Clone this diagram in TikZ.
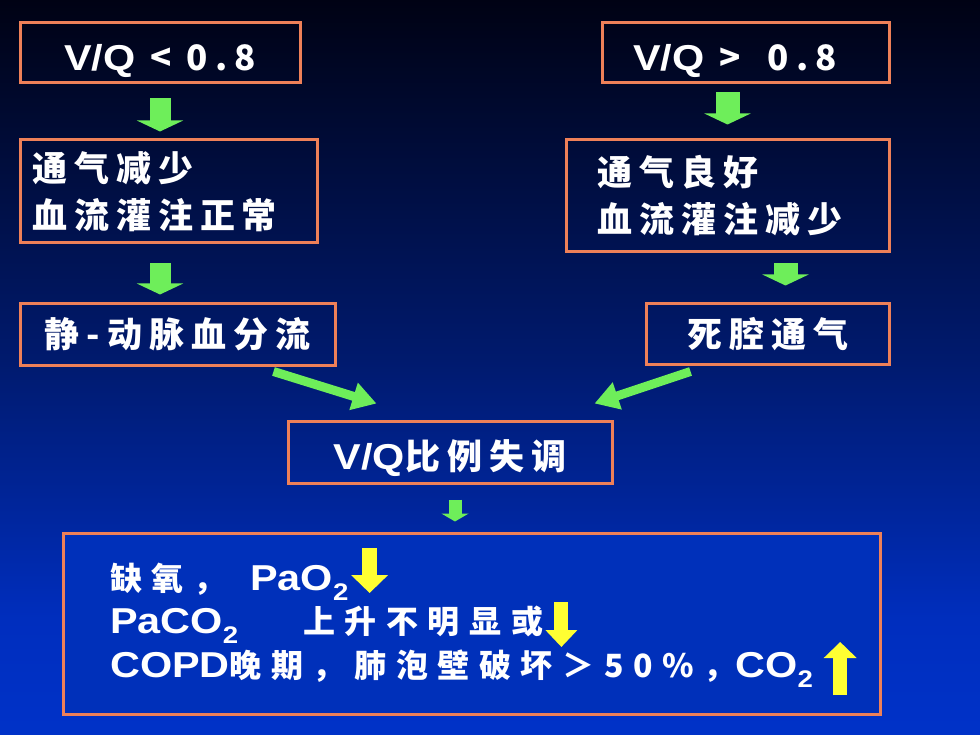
\documentclass[tikz,border=0pt]{standalone}
\usepackage{fontspec}
\newfontfamily\cjk[LetterSpace=20]{Noto Sans CJK SC}
\newfontfamily\cjkb[LetterSpace=30]{Noto Sans CJK SC}
\newfontfamily\latin[FakeStretch=1.15]{Liberation Sans}
\usetikzlibrary{calc, arrows.meta, positioning}
\definecolor{boxorange}{RGB}{238,128,88}
\definecolor{arrowgreen}{RGB}{110,238,90}
\definecolor{arrowyellow}{RGB}{255,255,50}
\definecolor{bgtop}{RGB}{0,2,20}
\definecolor{bgmid}{RGB}{0,26,110}
\definecolor{bglow}{RGB}{0,46,190}
\definecolor{bgbot}{RGB}{0,50,200}
\definecolor{resfill}{RGB}{0,48,186}
\newcommand{\engl}[1]{{\latin\fontsize{36}{40}\selectfont #1}}
\newcommand{\sbt}[1]{\raisebox{-10pt}{\latin\fontsize{24}{24}\selectfont #1}}

\begin{document}
\begin{tikzpicture}[x=1pt,y=-1pt,
    box/.style={draw=boxorange, line width=3pt, inner sep=0pt, text=white,
                font=\cjk\bfseries\fontsize{35}{47}\selectfont},
    low/.style={text height=38pt, text depth=2pt},
    garrow/.style={draw=arrowgreen, line width=21pt, -{Triangle[width=46pt,length=11pt]}},
    gline/.style={draw=arrowgreen, line width=9pt, -{Triangle[width=27pt,length=24pt]}},
    yarrow/.style={draw=arrowyellow, line width=15pt, -{Triangle[width=36pt,length=18pt]}},
    line/.style={anchor=base west, inner sep=0pt, text=white,
                 font=\cjkb\bfseries\fontsize{32}{40}\selectfont}]
    \useasboundingbox (0,0) rectangle (980,735);
    % background
    \shade[top color=bgtop, bottom color=bgmid] (0,0) rectangle (980,361);
    \shade[top color=bgmid, bottom color=bglow] (0,360) rectangle (980,621);
    \shade[top color=bglow, bottom color=bgbot] (0,620) rectangle (980,735);

    % left branch
    \node[box, low, minimum width=280pt, minimum height=60pt] (vq1) at (160,53) {\engl{V/Q} < 0.8};
    \node[box, minimum width=297pt, minimum height=103pt, inner xsep=12pt, text width=273pt, align=left]
        (vent1) at (168.5,191.5) {通气减少\\血流灌注正常};
    \node[box, minimum width=315pt, minimum height=61pt] (shunt) at (177.5,334.5) {静-动脉血分流};

    % right branch
    \node[box, low, minimum width=287pt, minimum height=60pt, inner xsep=31pt, text width=225pt, align=left]
        (vq2) at (745.5,53) {\engl{V/Q}\hspace{4pt} >\hspace{15pt} 0.8};
    \node[box, minimum width=323pt, minimum height=112pt, inner xsep=31pt, text width=261pt, align=left]
        (vent2) at (727.5,196) {通气良好\\血流灌注减少};
    \node[box, minimum width=243pt, minimum height=60pt] (dead) at (767.5,334) {死腔通气};

    % result
    \node[box, text height=36pt, text depth=2pt, minimum width=324pt, minimum height=62pt]
        (mis) at (450,452) {\engl{V/Q}比例失调};
    \node[box, fill=resfill, minimum width=817pt, minimum height=181pt] (res) at (471.5,623.5) {};
    \node[line] (ln1) at (110,590) {\makebox[140pt][l]{缺氧，}\engl{PaO}\sbt{2}};
    \node[line] (ln2) at (110,633) {\makebox[193pt][l]{\engl{PaCO}\sbt{2}}上升不明显或};
    \node[line] (ln3) at (110,677) {\engl{COPD}晚期，肺泡壁破坏＞50\%，\engl{CO}\sbt{2}};

    % block arrows
    \draw[garrow, shorten <=14pt, shorten >=7pt] (vq1.south) -- (vq1.south |- vent1.north);
    \draw[garrow, shorten <=19pt, shorten >=8pt] (vq1.south |- vent1.south) -- (vq1.south |- shunt.north);
    \draw[garrow, line width=24pt, shorten <=8pt, shorten >=14pt] (vent2.north |- vq2.south) -- (vent2.north);
    \draw[garrow, line width=24pt, shorten <=10pt, shorten >=17pt]
        ($(dead.north |- vent2.south)+(18,0)$) -- ($(dead.north)+(18,0)$);
    \draw[gline] ($(shunt.south east)+(-63,5)$) -- ($(mis.north west)+(90,-16)$);
    \draw[gline] ($(dead.south west)+(46,6)$) -- ($(mis.north east)+(-19,-16)$);
    \draw[garrow, line width=13pt, -{Triangle[width=27pt,length=8pt]}, shorten <=15pt, shorten >=10pt]
        ($(mis.south)+(5,0)$) -- ($(mis.south |- res.north)+(5,0)$);

    % yellow arrows
    \draw[yarrow] ($(ln1.base east)+(21,-42)$) -- ($(ln1.base east)+(21,3)$);
    \draw[yarrow, line width=14pt, -{Triangle[width=31pt,length=17pt]}]
        ($(ln2.base east)+(18,-31)$) -- ($(ln2.base east)+(18,14)$);
    \draw[yarrow, line width=14pt, -{Triangle[width=32pt,length=16pt]}]
        ($(ln3.base east)+(27,18)$) -- ($(ln3.base east)+(27,-35)$);
\end{tikzpicture}
\end{document}
